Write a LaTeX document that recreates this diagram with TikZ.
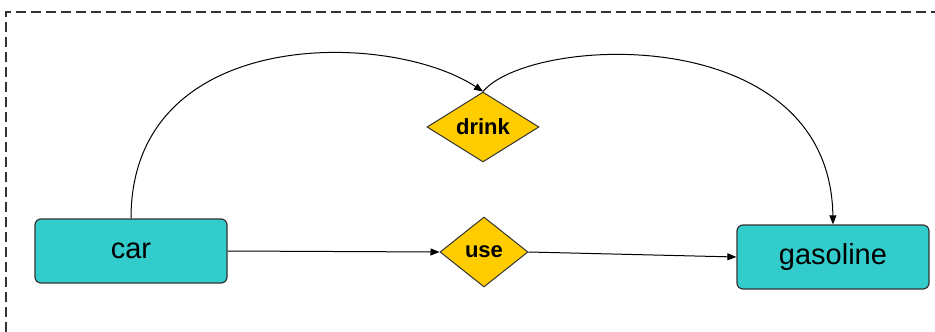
\documentclass[tikz,border=0pt]{standalone}
\usepackage{fontspec}
\setmainfont{Liberation Sans}
\usetikzlibrary{shapes.geometric,arrows.meta}
\definecolor{boxteal}{HTML}{33CCCC}
\definecolor{dgold}{HTML}{FFCC00}
\definecolor{edgegray}{HTML}{333333}
\tikzset{
  entity/.style={draw=edgegray, line width=1.2pt, fill=boxteal, rounded corners=6pt,
    minimum width=192pt, minimum height=64pt, inner sep=0pt, font=\fontsize{29}{32}\selectfont},
  rel/.style={draw=edgegray, line width=1pt, fill=dgold, diamond, inner sep=0pt,
    font=\bfseries\fontsize{22}{25}\selectfont},
  conn/.style={line width=1pt, -{Triangle[length=9pt,width=7pt]}},
  frame/.style={draw=edgegray, line width=1.6pt, dash pattern=on 10pt off 5pt}
}
\begin{document}
\begin{tikzpicture}[x=1pt,y=-1pt]
\useasboundingbox (0,0) rectangle (935,332);
\coordinate (fa) at (6,332);
\coordinate (fb) at (6,12);
\coordinate (fc) at (940,12);
\draw[frame] (fa) -- (fb) -- (fc);
\node[entity] (car) at (131,251) {car};
\node[entity] (gas) at (833,257) {gasoline};
\node[rel, minimum width=88pt, minimum height=70pt] (use) at (484,252) {use};
\node[rel, minimum width=112pt, minimum height=68pt] (drink) at (483,127) {drink};
\draw[conn] (car.east) -- (use.west);
\draw[conn] (use.east) -- (gas.west);
\draw[conn] (car.north) .. controls (131,25) and (390,30) .. (drink.north);
\draw[conn] (drink.north) .. controls (530,35) and (830,20) .. (gas.north);
\end{tikzpicture}
\end{document}
